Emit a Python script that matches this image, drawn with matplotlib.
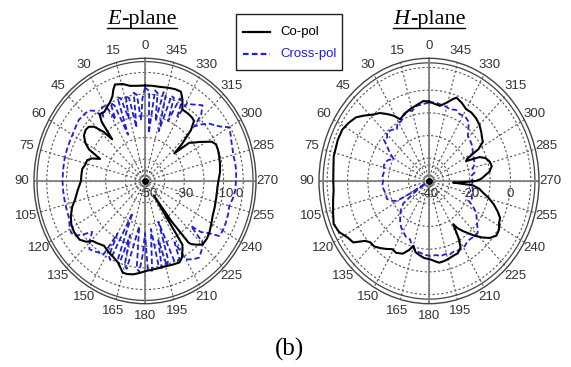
import numpy as np
import matplotlib
matplotlib.use("Agg")
import matplotlib.pyplot as plt
from matplotlib.lines import Line2D
from matplotlib.patches import Rectangle

# ---------------- data ----------------
angle_ticks = list(range(0, 360, 15))
angle_labels = [str(a) for a in angle_ticks]

e_r_labels = ["-50", "-30", "-10", "0"]
e_r_label_vals = [-50, -30, -10, 0]
h_r_labels = ["-40", "-20", "0"]
h_r_label_vals = [-40, -20, 0]

e_rings = [-45, -40, -30, -20, -10, 0]
h_rings = [-33, -30, -20, -10, 0, 10]

# E-plane co-pol (deg, dB)
e_co_theta = [0, 5, 10, 14, 19, 21, 23, 26, 29, 33, 37, 39, 41, 43, 46, 49, 52, 56, 60, 63,
              66, 69, 72, 76, 80, 85, 90, 97, 103, 108, 113, 118, 123, 129, 133, 136, 140, 145,
              151, 155, 160, 165, 168, 172, 176, 181, 188, 195, 200, 205, 208, 211, 213, 214,
              216, 218, 219, 222, 225, 230, 234, 240, 245, 251, 257, 262, 266, 271, 276, 282,
              287, 291, 295, 298, 300, 303, 306, 308, 310.5, 312, 315, 318, 321, 325, 330, 333,
              336, 340, 345, 350, 355, 360]
e_co_db = [-6, -6, -5.5, -4, -3, -5, -7.6, -9.5, -10.6, -12, -11.5, -15, -24.5, -19, -14, -12,
           -11.7, -12.5, -15, -18, -25, -21, -19, -18.7, -17.6, -17.5, -17.4, -15.5, -13.6, -11,
           -9, -7.5, -6.9, -7.1, -9, -11.6, -12.5, -13.6, -12.3, -11.5, -10, -6.3, -6.2, -6.6,
           -7.5, -8.6, -9.2, -9.4, -9, -8.6, -10, -13, -15, -42, -27, -14, -12.6, -10.5, -8.6,
           -8.8, -9.5, -11, -12, -12.5, -12.9, -13, -13, -12.5, -11.6, -11, -10.5, -10.2, -10.1,
           -11.5, -13.9, -17, -20, -21.4, -30.4, -25, -17, -12.7, -12.2, -12, -12, -8, -5, -5,
           -5.5, -6, -6, -6]

# E-plane cross-pol
e_x_theta = [0, 2, 4, 6, 8, 10, 12, 14, 16, 18, 20, 22, 24, 26, 28, 30, 33, 36, 38, 41, 44,
             47, 50, 54, 58, 62, 65, 70, 76, 83, 90, 96, 102, 108, 114, 118, 122, 125, 128,
             131, 134, 138, 141, 145, 148, 150, 152, 154, 156.6, 159, 161, 163, 165, 167, 169,
             172, 174, 176, 178, 180, 182, 185, 187.8, 190, 192, 194, 196, 198, 200, 202, 204,
             206, 208, 210, 214, 218, 222, 226, 228.5, 230.5, 232.6, 236.2, 240, 245, 250, 255,
             260, 265, 270, 275, 280, 285, 288, 292, 296, 300, 303, 306, 309, 312, 315, 317,
             320, 323, 326, 329, 331, 333, 335, 337, 339, 341, 343, 345, 347, 349, 351, 353,
             355, 357, 360]
e_x_db = [-7, -12, -22, -10, -9, -25, -11, -9.5, -20, -10, -9, -27, -12, -10, -18, -10, -9.6,
          -14, -9, -7, -6.5, -6.4, -6.1, -6.7, -7.2, -7.5, -7.6, -7.7, -7.8, -8, -8, -8.1,
          -8.1, -8, -7.7, -6.5, -5.5, -6, -10, -14.3, -11, -7.7, -8.5, -9.6, -10, -22, -11,
          -9.5, -34, -12, -9, -24, -10, -8.5, -20, -29, -10, -7.8, -16, -26, -9, -8.5, -27.7,
          -11, -9, -22, -9, -12, -30, -10, -9.5, -10, -18, -8.3, -6.5, -5.2, -7, -9.2, -18.8,
          -13, -10.9, -4.5, -4.3, -4.6, -5, -5.6, -4.5, -3.8, -3.7, -3.4, -3.3, -3.5, -3.1,
          -2.5, -1.5, -0.5, -4, -6.3, -8, -11, -14.4, -8, -4.5, -6, -7.5, -8, -16, -9, -8,
          -20, -9, -8.5, -26, -9, -8, -22, -9, -8, -28, -8.5, -7]

# H-plane co-pol
h_co_theta = [0, 4.5, 10, 16, 22, 27.5, 31, 35, 39, 43, 48, 52, 57, 62, 68, 77, 84, 90, 95,
              100, 106, 112, 117, 122, 126, 130, 133, 137, 141, 145, 149, 153, 158, 162, 165,
              168, 172, 176, 181, 185, 188, 192, 196, 200, 204, 208, 210, 212, 214, 217, 220,
              223, 226.7, 230, 234, 238, 242, 245, 248, 252, 256, 259, 262, 265, 266.7, 268,
              270, 272, 274.6, 278, 282, 286, 290, 293, 295.7, 297.5, 300, 303, 306, 310, 315,
              320, 325.5, 330, 335, 339.8, 342, 346, 350.8, 355, 360]
h_co_db = [-5, -4.7, -6, -7, -8, -9.4, -6.5, -4, -1.5, 0, 3, 5.5, 7, 8.2, 8.3, 8, 7.2, 7, 7,
           7.8, 9, 10.5, 9.5, 7, 6, 1, -0.5, -0.6, -2, -3.5, -5, -4.5, -5.5, -8, -10.5, -8, -7,
           -6, -5.5, -4.5, -3.7, -4, -4.5, -5, -5.2, -7, -11, -17.6, -15, -12.4, -10, -7, -3.7,
           -1, 0.9, 0.5, -1, -1.5, -3.5, -6.5, -10, -13, -15, -18.4, -28.2, -24, -17, -14.5,
           -12.7, -10, -8.5, -9, -10.5, -13, -19.7, -19, -12, -8.5, -7.8, -6.5, -5, -4, -3.4,
           -3.5, -2, -0.9, -2.1, -4.5, -6.5, -6, -5]

# H-plane cross-pol
h_x_theta = [0, 5, 10.3, 15, 19, 23.6, 28, 31, 34.7, 39, 44, 47, 50.5, 53, 57, 61, 65, 69,
             73.4, 77, 80.6, 86, 90, 95, 100, 105, 111, 115, 119, 121, 123, 125, 128, 133,
             137.5, 142, 146, 150, 155, 160, 164, 168, 172, 176, 181, 186, 190, 194, 197.6,
             202, 206, 211.5, 216, 221, 226.5, 230, 234, 239, 243, 246.2, 250, 255, 260, 265,
             270, 276, 279.4, 284, 288, 293, 298.6, 303, 308, 312.6, 316, 320, 323, 328.5, 333,
             337, 342, 346, 351, 355, 360]
h_x_db = [-5.5, -6, -6.4, -8, -7.5, -8.8, -10.5, -10, -12.3, -11, -10.3, -12, -11.2, -14, -17,
          -20.2, -18, -17, -16.8, -17.5, -17.5, -17, -17.5, -16.9, -17.5, -18, -17.9, -19.5,
          -21.9, -30, -40, -32, -24, -21, -19.1, -17, -15.5, -14.5, -13, -12.7, -10, -8.5,
          -8.2, -7.5, -7, -7.2, -6.5, -6.8, -6.1, -6.8, -6, -6.4, -7.5, -7.2, -7, -9, -11, -13,
          -16, -19, -17.5, -18.5, -18, -19, -18.5, -19.2, -17.3, -18, -16.5, -16, -15.4, -14.5,
          -13.5, -12.9, -12.5, -10, -7.5, -6.4, -7, -6, -6.8, -6.2, -5.8, -5.2, -5.5]

# ---------------- figure ----------------
W, H = 571, 367
fig = plt.figure(figsize=(W / 100, H / 100), dpi=100)
fig.patch.set_facecolor("white")

TICK_FONT = "Liberation Sans"
GRID_C = "#555555"


def px_axes(cx, cy, rx, ry):
    return [(cx - rx) / W, (H - (cy + ry)) / H, 2 * rx / W, 2 * ry / H]


def setup(ax, rmin, rmax, rings, inner_gap):
    ax.set_theta_zero_location("N")
    ax.set_theta_direction(1)
    ax.set_ylim(rmin, rmax)
    ax.set_aspect("auto")
    ax.set_thetagrids(angle_ticks, angle_labels, fontsize=9.5, color="#333333",
                      family=TICK_FONT)
    ax.set_rgrids(rings, labels=[""] * len(rings))
    ax.set_ylim(rmin, rmax)
    ax.grid(True, color=GRID_C, lw=0.8, ls=(0, (2, 2)))
    ax.tick_params(axis="x", pad=-2)
    ax.spines["polar"].set_color("#444444")
    ax.spines["polar"].set_linewidth(1.0)
    th = np.linspace(0, 2 * np.pi, 500)
    ax.plot(th, np.full_like(th, rmax - inner_gap), color="#444444", lw=0.9, zorder=2)
    for a in (0, 90, 180, 270):
        ax.plot([np.deg2rad(a)] * 2, [rmin, rmax], color="#808080", lw=1.3, zorder=2)
    ax.plot([0], [rmin], "o", color="black", ms=4, zorder=6)


def draw(ax, co_t, co_r, x_t, x_r):
    ax.plot(np.deg2rad(x_t), x_r, color="#1f1fd6", lw=1.3, ls=(0, (3, 1.6)), zorder=4)
    ax.plot(np.deg2rad(co_t), co_r, color="black", lw=1.5, zorder=5)


def rlabels(ax, labels, vals, dxs):
    for lbl, v, dx in zip(labels, vals, dxs):
        ax.annotate(lbl, xy=(np.deg2rad(270), v), xytext=(dx, -13),
                    textcoords="offset pixels", ha="center", va="center",
                    fontsize=9.5, color="#333333", family=TICK_FONT, zorder=7)


axE = fig.add_axes(px_axes(145, 181, 111, 122.7), projection="polar")
setup(axE, -50, 6.5, e_rings, 1.5)
draw(axE, e_co_theta, e_co_db, e_x_theta, e_x_db)
rlabels(axE, e_r_labels, e_r_label_vals, [3, 0, 0, -4])

axH = fig.add_axes(px_axes(429, 181, 110, 122.7), projection="polar")
setup(axH, -40, 14, h_rings, 2.0)
draw(axH, h_co_theta, h_co_db, h_x_theta, h_x_db)
rlabels(axH, h_r_labels, h_r_label_vals, [0, 0, 0])

# ---------------- titles ----------------
fig.canvas.draw()
renderer = fig.canvas.get_renderer()


def title(cx, letter, base_y=24, ul_y=27.5):
    t1 = fig.text(0, 0, letter, fontsize=16, family="Liberation Serif", style="italic",
                  va="baseline")
    t2 = fig.text(0, 0, "-plane", fontsize=16, family="Liberation Serif", va="baseline")
    w1 = t1.get_window_extent(renderer).width
    w2 = t2.get_window_extent(renderer).width
    x0 = cx - (w1 + w2) / 2
    t1.set_position((x0 / W, 1 - base_y / H))
    t2.set_position(((x0 + w1 + 0.5) / W, 1 - base_y / H))
    fig.add_artist(Line2D([x0 / W, (x0 + w1 + w2) / W], [1 - ul_y / H] * 2,
                          transform=fig.transFigure, color="black", lw=1.0))


title(142, "E")
title(429, "H")

fig.text(290 / W, 1 - 356 / H, "(b)", fontsize=18, family="Liberation Serif",
         ha="center", va="baseline")

# ---------------- legend ----------------
bx0, by0, bx1, by1 = 236, 14, 342, 70
fig.add_artist(Rectangle((bx0 / W, 1 - by1 / H), (bx1 - bx0) / W, (by1 - by0) / H,
                         transform=fig.transFigure, fill=True, facecolor="white",
                         edgecolor="#222222", lw=1.0, zorder=10))
legend_items = [("Co-pol", "black", "-", 32), ("Cross-pol", "#1f1fd6", (0, (2.5, 1.5)), 54)]
for name, col, ls, yy in legend_items:
    fig.add_artist(Line2D([243 / W, 270 / W], [1 - yy / H] * 2, transform=fig.transFigure,
                          color=col, lw=1.6, ls=ls, zorder=11))
    fig.text(280 / W, 1 - yy / H, name, fontsize=9.5, family=TICK_FONT, color=col,
             ha="left", va="center", zorder=11)

fig.savefig("out.png", dpi=100)
